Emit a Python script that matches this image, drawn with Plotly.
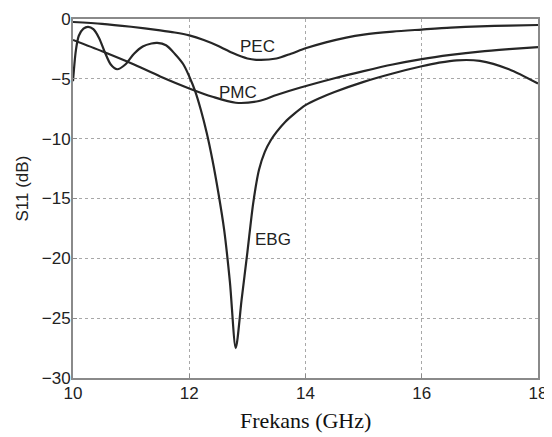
import plotly.graph_objects as go

# Frequency (GHz) and S11 (dB) values
pec_x = [10, 10.5, 11, 11.5, 11.75, 12, 12.25, 12.5, 12.75, 13, 13.2, 13.5, 13.75, 14, 14.35, 14.7, 15, 15.5, 16, 16.5, 17, 17.5, 18]
pec_y = [-0.25, -0.4, -0.65, -0.95, -1.13, -1.37, -1.75, -2.25, -2.85, -3.3, -3.42, -3.3, -2.9, -2.45, -1.95, -1.55, -1.3, -1.05, -0.88, -0.72, -0.62, -0.55, -0.5]

pmc_x = [10, 10.5, 11, 11.5, 12, 12.4, 12.8, 13.2, 13.5, 13.9, 14.5, 15, 15.5, 16, 16.5, 17, 17.5, 18]
pmc_y = [-1.75, -2.7, -3.7, -4.8, -5.8, -6.5, -7.0, -6.85, -6.35, -5.75, -4.95, -4.35, -3.8, -3.35, -3.0, -2.72, -2.52, -2.35]

ebg_x = [10, 10.05, 10.1, 10.18, 10.26, 10.35, 10.45, 10.55, 10.65, 10.76, 10.9, 11.05,
         11.2, 11.35, 11.45, 11.6, 11.75, 11.9, 12.0, 12.1, 12.2, 12.3, 12.4, 12.5,
         12.6, 12.7, 12.8, 12.9, 13.0, 13.1, 13.2, 13.3, 13.4, 13.5, 13.65, 13.8,
         14.0, 14.25, 14.5, 15, 15.5, 16, 16.3, 16.6, 17, 17.5, 18]
ebg_y = [-5.2, -2.6, -1.4, -0.8, -0.65, -0.85, -1.6, -2.8, -3.8, -4.2, -3.8, -2.9,
         -2.3, -2.05, -2.0, -2.2, -2.9, -3.8, -4.8, -6.0, -7.6, -9.5, -11.8, -14.5,
         -17.6, -22.0, -27.5, -23.5, -19.5, -15.4, -12.6, -11.1, -10.15, -9.45, -8.6, -7.95,
         -7.2, -6.6, -6.1, -5.25, -4.55, -3.95, -3.65, -3.45, -3.5, -4.2, -5.4]

labels = ["PEC", "PMC", "EBG"]
label_x = [13.17, 12.84, 13.44]
label_y = [-2.3, -6.15, -18.4]

x_ticks = [10, 12, 14, 16, 18]
y_ticks = [0, -5, -10, -15, -20, -25, -30]

SANS = "Liberation Sans, Arial, Helvetica"
SERIF = "Liberation Serif, Times New Roman"

line_style = dict(color="#262626", width=2.2, shape="spline", smoothing=0.8)

fig = go.Figure()
for xs, ys, name in [(pec_x, pec_y, "PEC"), (pmc_x, pmc_y, "PMC"), (ebg_x, ebg_y, "EBG")]:
    fig.add_trace(go.Scatter(x=xs, y=ys, mode="lines", name=name, line=line_style, showlegend=False))

for t, xx, yy in zip(labels, label_x, label_y):
    fig.add_annotation(x=xx, y=yy, text=t, showarrow=False,
                       font=dict(family=SANS, size=17, color="#222"))

# axis titles
fig.add_annotation(xref="paper", yref="paper", x=0, y=0.5, xanchor="center", yanchor="middle",
                   xshift=-51, yshift=10, textangle=-90, showarrow=False, text="S11 (dB)",
                   font=dict(family=SANS, size=17, color="#222"))
fig.add_annotation(xref="paper", yref="paper", x=0.5, y=0, xanchor="center", yanchor="middle",
                   yshift=-42, showarrow=False, text="Frekans (GHz)",
                   font=dict(family=SERIF, size=22, color="#111"))

axis_common = dict(showgrid=True, gridcolor="#a8a8a8", griddash="dot", gridwidth=1,
                   showline=True, linecolor="#8a8a8a", linewidth=2, mirror=True,
                   ticks="inside", ticklen=4, tickcolor="#8a8a8a", zeroline=False,
                   automargin=False, ticklabeloverflow="allow",
                   tickfont=dict(family=SANS, size=17, color="#222"))

fig.update_xaxes(range=[10, 18], tickvals=x_ticks, ticklabelstandoff=-1, **axis_common)
fig.update_yaxes(range=[-30, 0], tickvals=y_ticks, ticklabelstandoff=-3, **axis_common)

# the page body adds an 8px offset, so the figure is sized to fit inside the window
fig.update_layout(width=544, height=429, plot_bgcolor="white", paper_bgcolor="white",
                  margin=dict(l=65, r=14, t=11, b=59))

fig.write_html("out.html")
